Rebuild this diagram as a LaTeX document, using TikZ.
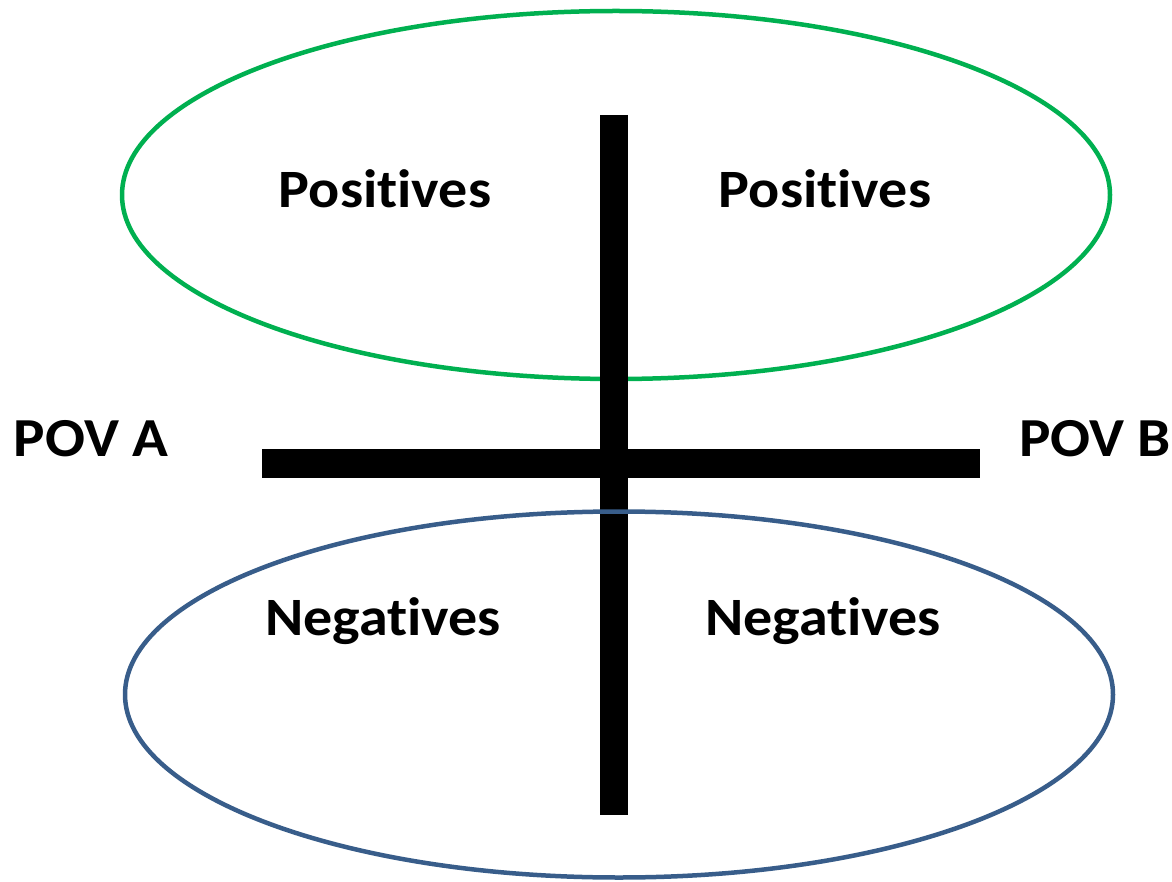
\documentclass[tikz,border=0pt]{standalone}
\usepackage{fontspec}
\setmainfont[RawFeature=-liga]{Carlito}
\definecolor{posgreen}{HTML}{00B050}
\definecolor{negblue}{HTML}{385D8A}
\newcommand{\wide}[1]{\scalebox{1.075}[1]{#1}}
\begin{document}
\begin{tikzpicture}[x=1pt,y=-1pt,
  ring/.style={line width=4.5pt},
  bar/.style={line width=28.5pt},
  quad/.style={font=\fontsize{54}{65}\selectfont\bfseries, anchor=base, inner sep=0pt},
  pov/.style={font=\fontsize{55}{66}\selectfont\bfseries, anchor=base, inner sep=0pt}]
\useasboundingbox (0,0) rectangle (1172,882);
\draw[ring, posgreen] (616,195) ellipse [x radius=494, y radius=184];
\coordinate (vt) at (614,115);
\coordinate (vb) at (614,815);
\coordinate (hl) at (262,463.5);
\coordinate (hr) at (980,463.5);
\draw[bar] (vt) -- (vb);
\draw[bar] (hl) -- (hr);
\draw[ring, negblue] (619,694.5) ellipse [x radius=494, y radius=183];
\node[quad] (p1) at (385,208) {\wide{Positives}};
\node[quad] (p2) at (825,208) {\wide{Positives}};
\node[quad] (n1) at (383,635) {\wide{Negatives}};
\node[quad] (n2) at (823,635) {\wide{Negatives}};
\node[pov] (pa) at (91,456) {\wide{POV A}};
\node[pov] (pb) at (1095,456) {\wide{POV B}};
\end{tikzpicture}
\end{document}
